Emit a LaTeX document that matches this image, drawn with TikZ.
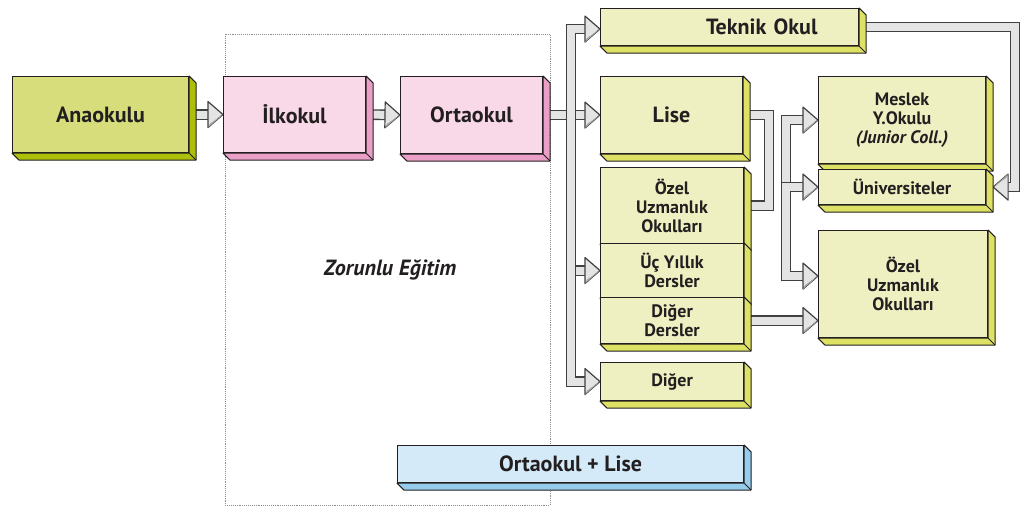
\documentclass[tikz,border=0pt]{standalone}
\usepackage{fontspec}
\setmainfont{PT Sans}
\usetikzlibrary{decorations.markings,calc}
\pgfdeclarelayer{bg}\pgfdeclarelayer{mid}
\pgfsetlayers{bg,mid,main}
\definecolor{gfront}{RGB}{214,221,122}
\definecolor{gside}{RGB}{172,192,10}
\definecolor{yfront}{RGB}{238,240,194}
\definecolor{yside}{RGB}{222,226,100}
\definecolor{pfront}{RGB}{249,216,232}
\definecolor{pside}{RGB}{234,160,198}
\definecolor{bfront}{RGB}{212,234,248}
\definecolor{bside}{RGB}{150,205,236}
\definecolor{ink}{RGB}{35,31,32}
\definecolor{pipein}{RGB}{228,228,228}
\tikzset{
 box/.style={draw=ink, line width=1.1pt, inner sep=0pt, align=center, text=ink, anchor=north west},
 big/.style={font=\fontsize{22}{24}\selectfont\bfseries},
 small/.style={font=\fontsize{18}{19}\selectfont\bfseries},
 pipe/.style={draw=black!75, line width=1.4pt, double=pipein, double distance=8pt},
 pipearrow/.style={pipe, shorten >=12pt, postaction={decorate, decoration={markings, mark=at position 1 with {\filldraw[fill=pipein, draw=black!75, line width=1.2pt, line join=round] (-15pt,-13pt) -- (0pt,0pt) -- (-15pt,13pt) -- cycle; \fill[black!35] (-15pt,-13pt) -- (0pt,0pt) -- (-13pt,-9pt) -- cycle;}}}},
}
\begin{document}
\begin{tikzpicture}[x=1pt,y=-1pt]
\useasboundingbox (0,0) rectangle (1025,513);
% boxes
\node[box, big, fill=gfront, minimum width=176pt, minimum height=76pt] (ana) at (12,76) {Anaokulu};
\node[box, big, fill=pfront, minimum width=142pt, minimum height=76pt] (ilk) at (223,76) {İlkokul};
\node[box, big, fill=pfront, minimum width=142pt, minimum height=77pt] (orta) at (400,76) {Ortaokul};
\node[box, big, fill=yfront, minimum width=258pt, minimum height=37pt, text width=176pt, inner xsep=41pt, align=right] (teknik) at (600,8) {Teknik Okul};
\node[box, big, fill=yfront, minimum width=142pt, minimum height=77pt] (lise) at (600,76) {Lise};
\node[box, small, fill=yfront, minimum width=167pt, minimum height=87pt] (meslek) at (818,76) {Meslek\\Y.Okulu\\\textit{(Junior Coll.)}};
\node[box, small, fill=yfront, minimum width=167pt, minimum height=35pt] (univ) at (818,169) {Üniversiteler};
\node[box, small, fill=yfront, minimum width=143pt, minimum height=76pt] (ozelL) at (600,167) {Özel\\Uzmanlık\\Okulları};
\node[box, small, fill=yfront, minimum width=143pt, minimum height=54pt] (ucyil) at (600,243) {Üç Yıllık\\Dersler};
\node[box, small, fill=yfront, minimum width=143pt, minimum height=46pt] (digerD) at (600,297) {Diğer\\Dersler};
\node[box, small, fill=yfront, minimum width=143pt, minimum height=38pt] (diger) at (600,362) {Diğer};
\node[box, small, fill=yfront, minimum width=169pt, minimum height=107pt] (ozelR) at (818,230) {Özel\\Uzmanlık\\Okulları};
\node[box, big, fill=bfront, minimum width=346pt, minimum height=37pt] (ortalise) at (397,445) {Ortaokul + Lise};
\node[font=\fontsize{22}{24}\selectfont\bfseries\itshape, text=ink] (zor) at (390,270) {Zorunlu Eğitim};
% extrusions
\begin{pgfonlayer}{mid}
\foreach \n/\c in {ana/gside, ilk/pside, orta/pside, teknik/yside, lise/yside, meslek/yside, univ/yside, ozelL/yside, ucyil/yside, digerD/yside, diger/yside, ozelR/yside, ortalise/bside}{
 \filldraw[fill=\c, draw=ink, line width=1pt, line join=round] (\n.north east) -- ++(7,7) -- ([shift={(7,7)}]\n.south east) -- ([shift={(7,7)}]\n.south west) -- (\n.south west) -- (\n.south east) -- cycle;
 \draw[ink, line width=0.8pt] (\n.south east) -- ++(7,7);
}
\end{pgfonlayer}
% connectors
\coordinate (tr) at (571,0);
\coordinate (ta) at (769,0);
\coordinate (tb) at (786,200);
\coordinate (tk) at (1015,0);
\begin{pgfonlayer}{bg}
\draw[black!45, densely dotted, line width=0.9pt] (225,34) rectangle (550,505);
\draw[pipearrow] (ana.east) -- (ilk.west);
\draw[pipearrow] (ilk.east) -- (orta.west);
\draw[pipearrow] (orta.east) -- (lise.west);
\draw[pipearrow] (orta.east -| tr) |- ([yshift=-2pt]teknik.west);
\draw[pipearrow] (orta.east -| tr) |- (ucyil.west);
\draw[pipearrow] (orta.east -| tr) |- (diger.west);
\draw[pipe] (lise.east) -| (ta |- ozelL.east) -- (ozelL.east);
\draw[pipearrow] (tb) |- (meslek.west);
\draw[pipearrow] (tb) |- (univ.west);
\draw[pipearrow] (tb) |- ([yshift=8pt]ozelR.west);
\draw[pipearrow] (digerD.east) -- (digerD.east -| ozelR.west);
\draw[pipearrow] (teknik.east) -- (teknik.east -| tk) |- ([xshift=7pt]univ.east);
\end{pgfonlayer}
\end{tikzpicture}
\end{document}
